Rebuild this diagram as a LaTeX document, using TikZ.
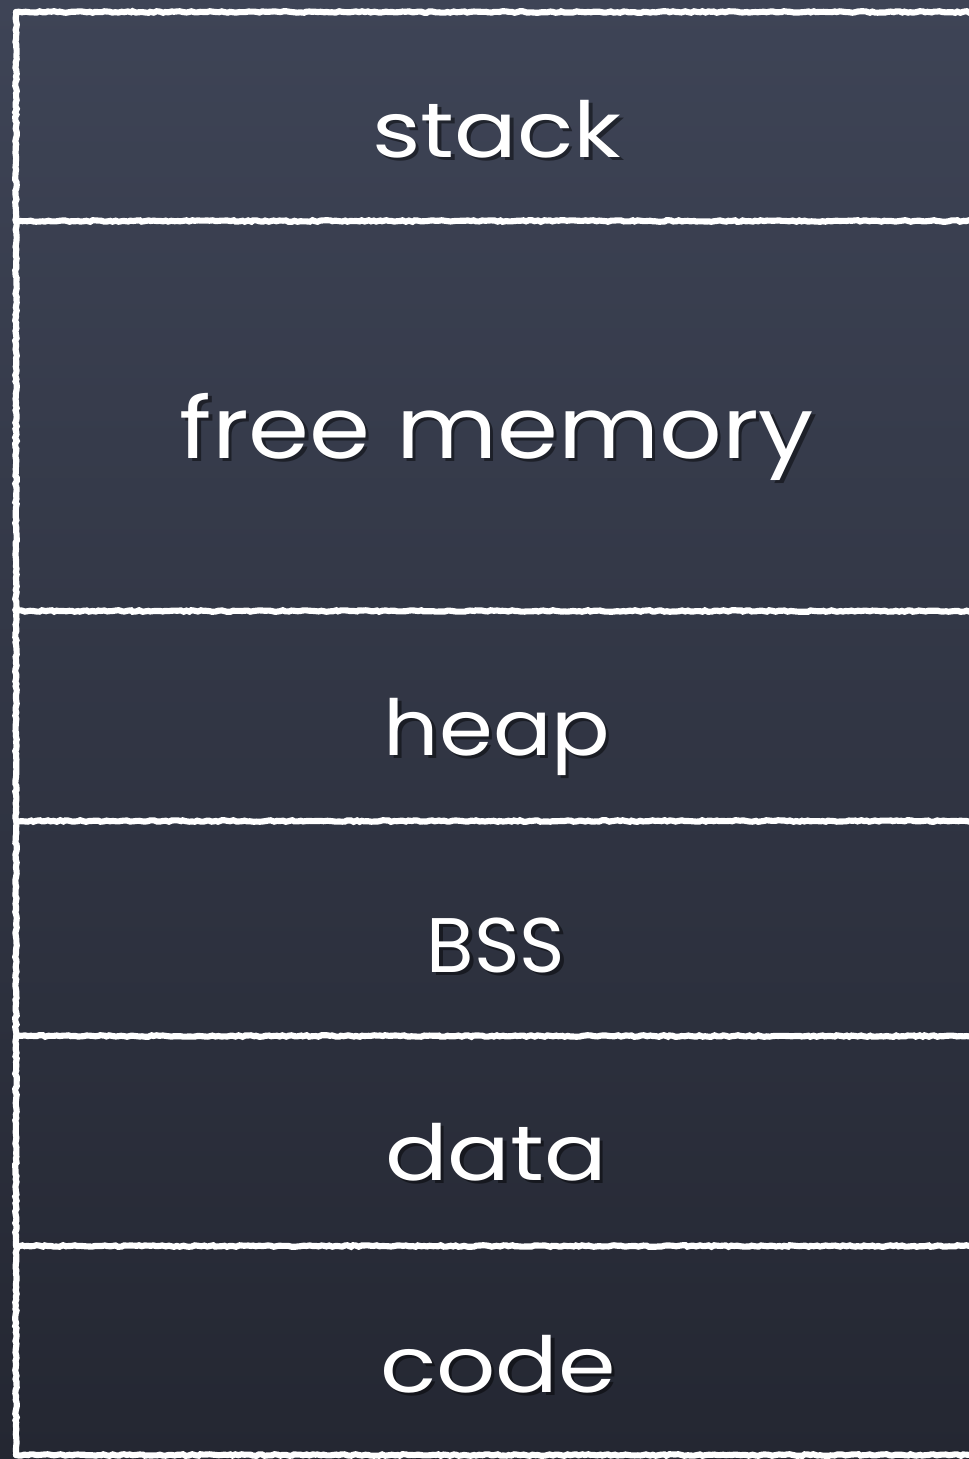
\documentclass[tikz,border=0pt]{standalone}
\usepackage{fontspec}
\setmainfont{Poppins}
\usetikzlibrary{decorations.pathmorphing}
\definecolor{boardtop}{RGB}{62,68,86}
\definecolor{boardmid}{RGB}{67,72,89}
\definecolor{boardbot}{RGB}{36,39,50}
\tikzset{
  chalk/.style={draw=white, line width=4.6pt, line cap=round,
    decorate, decoration={random steps, segment length=2.2pt, amplitude=0.6pt}},
  label/.style={text=white, anchor=base, inner sep=0pt},
  shadowlbl/.style={text=black, opacity=0.45, anchor=base, inner sep=0pt}
}
\newcommand{\chalktext}[5]{%
  \node[shadowlbl, xscale=#4, font=\fontsize{#5}{#5}\selectfont] (#1s) at ([xshift=2.5pt,yshift=-2.5pt]#2) {#3};
  \node[label, xscale=#4, font=\fontsize{#5}{#5}\selectfont] (#1) at (#2) {#3};}
\begin{document}
\begin{tikzpicture}[x=0.75pt,y=-0.75pt]
\pgfmathsetseed{7}
\useasboundingbox (0,0) rectangle (969,1459);
\shade[top color=boardtop, middle color=boardmid, bottom color=boardbot] (0,0) rectangle (969,1459);
% region boundaries
\coordinate (y0) at (16,12);
\coordinate (y1) at (16,221);
\coordinate (y2) at (16,611);
\coordinate (y3) at (16,821);
\coordinate (y4) at (16,1036);
\coordinate (y5) at (16,1246);
\coordinate (y6) at (16,1455);
\coordinate (e0) at (975,12);
\coordinate (e1) at (975,221);
\coordinate (e2) at (975,611);
\coordinate (e3) at (975,821);
\coordinate (e4) at (975,1036);
\coordinate (e5) at (975,1246);
\coordinate (e6) at (975,1455);
\draw[chalk] (y0) -- (y6);
\foreach \i in {0,...,6}{\draw[chalk] (y\i) -- (e\i);}
% labels
\chalktext{stack}{497,157}{stack}{1.2}{58}
\chalktext{free}{497,458}{free memory}{1.15}{64}
\chalktext{heap}{497,755}{heap}{1.12}{58}
\chalktext{bss}{496,972}{BSS}{1.0}{58}
\chalktext{data}{496,1180}{data}{1.2}{58}
\chalktext{code}{498,1392}{code}{1.2}{58}
\end{tikzpicture}
\end{document}
